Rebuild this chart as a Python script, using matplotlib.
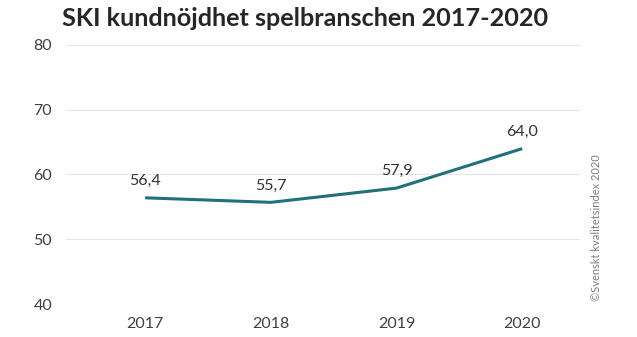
import matplotlib.pyplot as plt

years = ['2017', '2018', '2019', '2020']
scores = [56.4, 55.7, 57.9, 64.0]
y_ticks = [40, 50, 60, 70, 80]

plt.rcParams['font.family'] = ['Lato', 'DejaVu Sans']

fig = plt.figure(figsize=(6.37, 3.37), dpi=100)
ax = fig.add_axes([66 / 637, 1 - 304 / 337, 514 / 637, 259 / 337])

x = list(range(len(years)))
ax.plot(x, scores, color='#21707A', linewidth=2.2, solid_capstyle='butt')

for xi, v in zip(x, scores):
    ax.annotate(f'{v:.1f}'.replace('.', ','), (xi, v), xytext=(0, 7),
                textcoords='offset points', ha='center', va='bottom',
                fontsize=11.5, color='#333333')

ax.set_ylim(40, 80)
ax.set_yticks(y_ticks)
ax.set_xlim(-0.63, 3.46)
ax.set_xticks(x)
ax.set_xticklabels(years)
ax.grid(axis='y', color='#e6e6e6', linewidth=0.8)
ax.set_axisbelow(True)
for s in ax.spines.values():
    s.set_visible(False)
ax.tick_params(length=0, labelsize=11.5, labelcolor='#404040')
ax.tick_params(axis='y', pad=10)
ax.tick_params(axis='x', pad=9)

fig.text(62 / 637, 1 - 19 / 337, 'SKI kundnöjdhet spelbranschen 2017-2020',
         fontsize=18.2, fontweight='bold', color='#262626', va='center', ha='left')
fig.text(597 / 637, 1 - 228 / 337, '©Svenskt kvalitetsindex 2020', rotation=90,
         fontsize=8, color='#7f7f7f', ha='center', va='center')

fig.savefig('out.png', dpi=100)
